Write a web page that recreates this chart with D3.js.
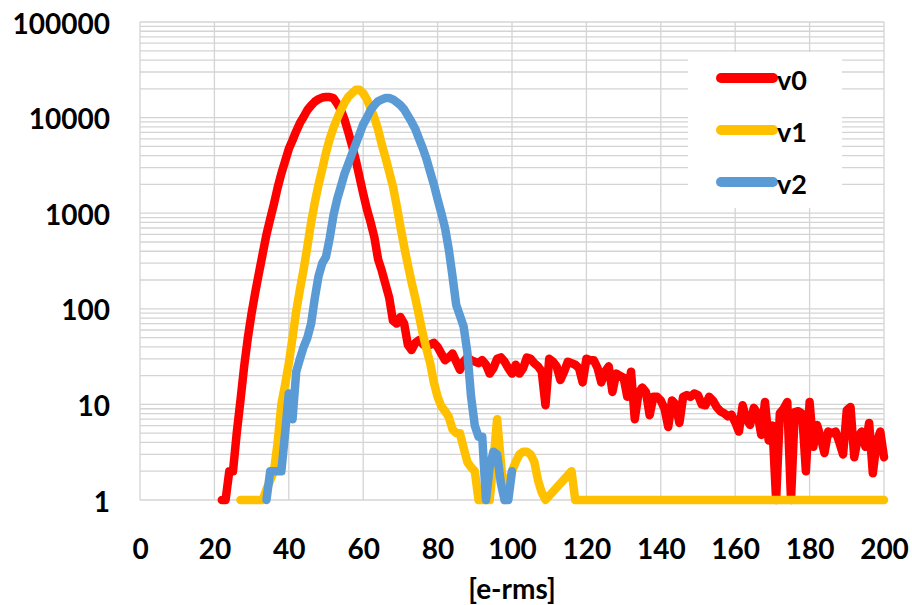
<!DOCTYPE html>
<html lang="en">
<head>
<meta charset="utf-8">
<title>e-rms distribution</title>
<script src="https://cdn.jsdelivr.net/npm/d3@7"></script>
<style>
  body { margin: 0; background: #fff; }
  svg { display: block; }
  text { font-family: Lato, "Open Sans", sans-serif; font-weight: bold; fill: #000; }
</style>
</head>
<body>
<script>
// series names and colours
var names = ["v0", "v1", "v2"];
var colors = ["#ff0000", "#ffc000", "#5b9bd5"];

// each series starts at this x, one value per unit step (null = no point)
var v0Start = 22;
var v0 = [
  1, 1, 2, 2, 5, 11, 25, 50,                                   // 22-29
  90, 150, 240, 380, 600, 870, 1250, 1850, 2600, 3500,         // 30-39
  4700, 5800, 7200, 8800, 10200, 12000, 13400, 14700, 15600, 16200, // 40-49
  16400, 16400, 16000, 14000, 12000, 9500, 7000, 5100, 3600, 2400,  // 50-59
  1600, 1100, 800, 560, 330, 250, 180, 130, 75, 70,            // 60-69
  82, 70, 42, 37, 44, 47, 43, 40, 42, 44,                      // 70-79
  40, 34, 29, 31, 34, 28, 23, 28, 31, 29,                      // 80-89
  28, 27, 29, 26, 21, 24, 30, 31, 28, 24,                      // 90-99
  21, 26, 21, 24, 31, 30, 27, 25, 22, 9.8,                     // 100-109
  30, 28, 25, 18, 22, 28, 27, 26, 24, 17,                      // 110-119
  30, 29, 29, 24, 17, 22, 25, 13.5, 21, 20,                    // 120-129
  19, 12, 22, 7, 13, 15, 13.5, 7.7, 12, 12,                    // 130-139
  11, 9, 5.8, 11, 10, 6.4, 12, 12.5, 12, 13,                   // 140-149
  12.5, 10, 9.8, 12, 11, 9.4, 8.5, 8.1, 7.5, 7.8,              // 150-159
  6.5, 5.2, 9.8, 7, 6.1, 9.2, 8, 4.8, 10.6, 4.2,               // 160-169
  6, 1, 8.1, 9, 10.6, 1, 8.3, 8.5, 8, 2,                       // 170-179
  10.6, 3.6, 6.1, 4.5, 3.1, 5.2, 5, 5.2, 4, 3,                 // 180-189
  8.7, 9.4, 2.8, 4.5, 5.2, 3.6, 6.4, 1.9, 4, 5.2,              // 190-199
  2.8                                                          // 200
];

var v1Start = 27;
var v1 = [
  1, 1, 1,                                                     // 27-29
  1, 1, 1, 1, 1.3, 1.6, 2, 4, 10, 16,                          // 30-39
  27, 50, 95, 160, 260, 450, 800, 1300, 2000, 2900,            // 40-49
  4300, 6000, 7800, 9800, 12000, 14300, 16500, 18000, 19500, 19500, // 50-59
  18000, 15500, 12500, 10000, 7500, 5200, 3800, 2700, 1900, 1200,   // 60-69
  720, 450, 290, 190, 130, 85, 55, 38, 27, 17,                 // 70-79
  12, 9.5, 8.5, 7.4, 5.5, 5, 5, 3.5, 2.5, 2.2,                 // 80-89
  2, 1, 1, 1, 1, 2.5, 7, 2.5, 1, 1.5,                          // 90-99
  2, 2.5, 3, 3.2, 3.2, 3, 2.5, 1.6, 1.2, 1,                    // 100-109
  null, null, null, null, null, null, 2, 1, 1, 1,              // 110-119
  1, 1, 1, 1, 1, 1, 1, 1, 1, 1,                                // 120-129
  1, 1, 1, 1, 1, 1, 1, 1, 1, 1,                                // 130-139
  1, 1, 1, 1, 1, 1, 1, 1, 1, 1,                                // 140-149
  1, 1, 1, 1, 1, 1, 1, 1, 1, 1,                                // 150-159
  1, 1, 1, 1, 1, 1, 1, 1, 1, 1,                                // 160-169
  1, 1, 1, 1, 1, 1, 1, 1, 1, 1,                                // 170-179
  1, 1, 1, 1, 1, 1, 1, 1, 1, 1,                                // 180-189
  1, 1, 1, 1, 1, 1, 1, 1, 1, 1,                                // 190-199
  1                                                            // 200
];

var v2Start = 34;
var v2 = [
  1, 2, 2, 2, 2, 5,                                            // 34-39
  13, 7, 22, 30, 40, 50, 70, 130, 220, 300,                    // 40-49
  350, 550, 950, 1400, 1900, 2600, 3300, 4200, 5300, 6700,     // 50-59
  8500, 10000, 12000, 13500, 14800, 15500, 16000, 16000, 15500, 14500, // 60-69
  13500, 12200, 10500, 9000, 7600, 6000, 4800, 3700, 2700, 2000,      // 70-79
  1400, 1000, 700, 420, 220, 110, 85, 65, 35, 12,              // 80-89
  6, 4.6, 4.6, 1, 2.2, 3.2, 3, 1.5, 1, 1,                      // 90-99
  2                                                            // 100
];

var xTicks = [0, 20, 40, 60, 80, 100, 120, 140, 160, 180, 200];
var yTicks = [1, 10, 100, 1000, 10000, 100000];
var yTickLabels = ["1", "10", "100", "1000", "10000", "100000"];
var xTitle = "[e-rms]";

var width = 912, height = 605;
var plotL = 140, plotR = 884, plotT = 22, plotB = 500;

var svg = d3.select("body").append("svg")
    .attr("width", width)
    .attr("height", height);

svg.append("rect").attr("width", width).attr("height", height).attr("fill", "#fff");

var x = d3.scaleLinear().domain([0, 200]).range([plotL, plotR]);
var y = d3.scaleLog().domain([1, 100000]).range([plotB, plotT]);

// minor + major horizontal gridlines
var gridVals = [];
yTicks.forEach(function(t, i) {
  if (i < yTicks.length - 1) {
    for (var k = 1; k < 10; k++) gridVals.push(t * k);
  } else {
    gridVals.push(t);
  }
});

svg.append("g").selectAll("line")
    .data(gridVals)
    .enter().append("line")
    .attr("x1", plotL).attr("x2", plotR)
    .attr("y1", function(d) { return y(d); })
    .attr("y2", function(d) { return y(d); })
    .attr("stroke", "#d4d4d4")
    .attr("stroke-width", 1.3);

svg.append("g").selectAll("line")
    .data(xTicks)
    .enter().append("line")
    .attr("x1", function(d) { return x(d); })
    .attr("x2", function(d) { return x(d); })
    .attr("y1", plotT).attr("y2", plotB)
    .attr("stroke", "#d4d4d4")
    .attr("stroke-width", 1.3);

// axes (labels only)
var xAxis = d3.axisBottom(x).tickValues(xTicks).tickSize(0).tickPadding(0);
var gx = svg.append("g").attr("transform", "translate(0," + 548 + ")").call(xAxis);
gx.select(".domain").remove();
gx.selectAll("text")
    .attr("dy", null)
    .attr("y", 0)
    .attr("dominant-baseline", "central")
    .style("font-size", "28px")
    .style("font-family", "Lato, sans-serif")
    .style("font-weight", "bold");

var yAxis = d3.axisLeft(y).tickValues(yTicks)
    .tickFormat(function(d, i) { return yTickLabels[i]; })
    .tickSize(0).tickPadding(0);
var gy = svg.append("g").attr("transform", "translate(" + 110 + ",0)").call(yAxis);
gy.select(".domain").remove();
gy.selectAll("text")
    .attr("dy", null)
    .attr("x", 0)
    .attr("dominant-baseline", "central")
    .style("font-size", "28px")
    .style("font-family", "Lato, sans-serif")
    .style("font-weight", "bold");

svg.append("text")
    .attr("x", (plotL + plotR) / 2)
    .attr("y", 588)
    .attr("text-anchor", "middle")
    .attr("dominant-baseline", "central")
    .style("font-size", "28px")
    .text(xTitle);

// series lines
function toPoints(start, vals) {
  var pts = [];
  vals.forEach(function(v, i) {
    if (v !== null) pts.push([start + i, v]);
  });
  return pts;
}

var series = [toPoints(v0Start, v0), toPoints(v1Start, v1), toPoints(v2Start, v2)];

var line = d3.line()
    .x(function(d) { return x(d[0]); })
    .y(function(d) { return y(d[1]); });

svg.append("g").selectAll("path")
    .data(series)
    .enter().append("path")
    .attr("d", line)
    .attr("fill", "none")
    .attr("stroke", function(d, i) { return colors[i]; })
    .attr("stroke-width", 8.5)
    .attr("stroke-linejoin", "round")
    .attr("stroke-linecap", "round");

// legend
var legend = svg.append("g");
legend.append("rect")
    .attr("x", 688).attr("y", 52)
    .attr("width", 154).attr("height", 156)
    .attr("fill", "#fff");

var legY = [78, 130, 182];
names.forEach(function(n, i) {
  legend.append("line")
      .attr("x1", 721).attr("x2", 773)
      .attr("y1", legY[i]).attr("y2", legY[i])
      .attr("stroke", colors[i])
      .attr("stroke-width", 10)
      .attr("stroke-linecap", "round");
  legend.append("text")
      .attr("x", 777).attr("y", legY[i] + 1)
      .attr("dominant-baseline", "central")
      .style("font-size", "27px")
      .text(n);
});
</script>
</body>
</html>
